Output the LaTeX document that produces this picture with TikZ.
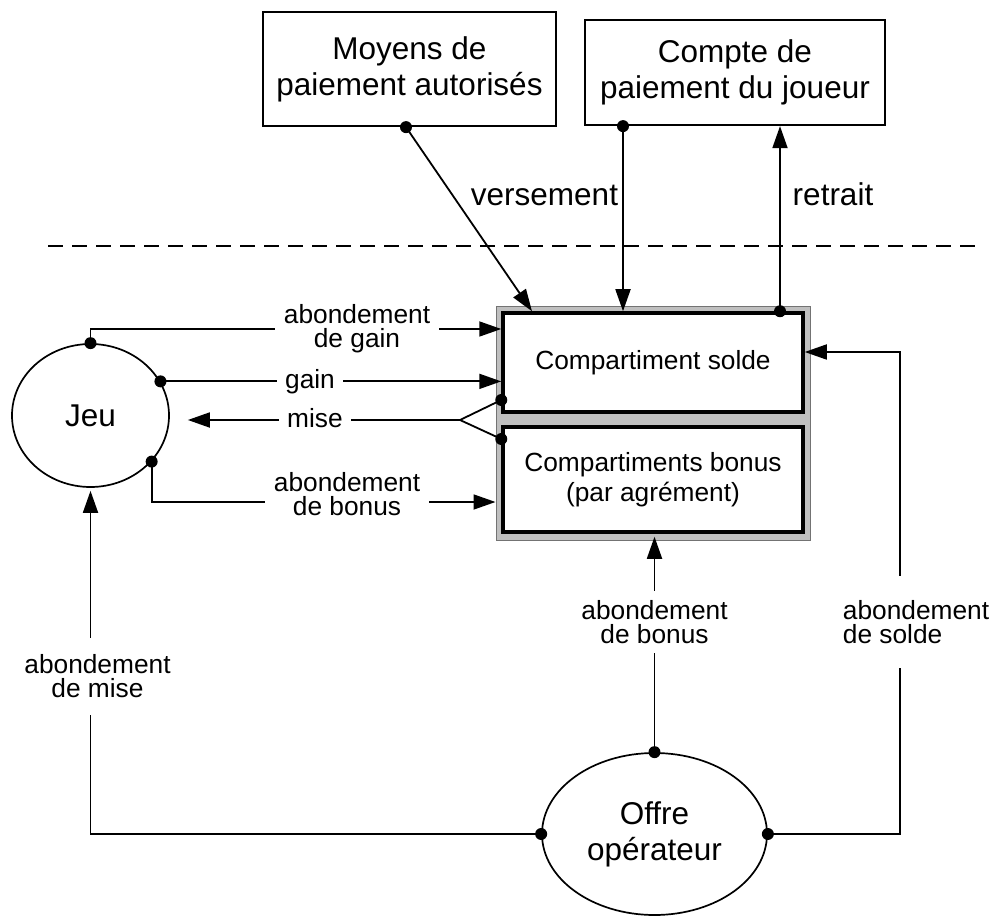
\documentclass[tikz,border=0pt]{standalone}
\usepackage{fontspec}
\setmainfont{Liberation Sans}
\usetikzlibrary{arrows.meta,shapes.geometric}
\begin{document}
\begin{tikzpicture}[x=1pt,y=-1pt,
  big/.style={font={\fontsize{31.5}{36}\selectfont}, align=center},
  small/.style={font={\fontsize{26.3}{24}\selectfont}, align=center},
  topbox/.style={big, draw, line width=2.3pt, inner sep=0pt},
  compbox/.style={draw, fill=white, line width=3.5pt, inner sep=0pt, font={\fontsize{26.3}{30}\selectfont}, align=center},
  oval/.style={ellipse, draw, line width=1.7pt, inner sep=0pt, big},
  conn/.style={line width=1.8pt},
  arr/.style={conn, -{Triangle[length=22pt,width=15pt]}},
  lab/.style={small, fill=white, inner xsep=8.5pt, inner ysep=2pt},
  dot/.style={circle, fill, inner sep=0pt, minimum size=12pt},
]
\useasboundingbox (0,0) rectangle (991,917);
\draw[line width=1.4pt, dash pattern=on 15pt off 9pt] (48,246) -- (975,246);

\node[topbox, minimum width=293pt, minimum height=114pt] (moyens) at (409.5,69) {Moyens de\\paiement autorisés};
\node[topbox, minimum width=300pt, minimum height=105pt] (compte) at (735,72.5) {Compte de\\paiement du joueur};

\node[draw=black!55, fill=black!25, line width=1pt, minimum width=314pt, minimum height=233pt, inner sep=0pt] (comp) at (653,423.5) {};
\node[compbox, minimum width=300pt, minimum height=99pt] (solde) at (653,362.5) {Compartiment solde};
\node[compbox, minimum width=300pt, minimum height=105pt] (bonus) at (653,479.5) {Compartiments bonus\\(par agrément)};

\node[oval, minimum width=157pt, minimum height=143pt] (jeu) at (90.5,415.5) {Jeu};
\node[oval, minimum width=225pt, minimum height=162pt] (offre) at (654.5,834) {Offre\\opérateur};

\coordinate (yg) at (0,329);
\coordinate (yb) at (0,502);
\coordinate (fork) at (460,420);
\coordinate (ym1) at (0,400);
\coordinate (ym2) at (0,439);
\coordinate (sc) at (900,352);
\coordinate (mdot) at ([xshift=-3.5pt]moyens.south);
\coordinate (vtip) at ([xshift=-121pt]solde.north);
\coordinate (cdot) at ([xshift=-112pt]compte.south);
\coordinate (rdot) at ([xshift=127pt]solde.north);
\coordinate (md1) at (solde.west |- ym1);
\coordinate (md2) at (bonus.west |- ym2);

\draw[arr] (mdot) -- (vtip);
\draw[arr] (cdot) -- (cdot |- solde.north);
\draw[arr] (rdot) -- (rdot |- compte.south);
\draw[arr] (jeu.north) |- (solde.west |- yg);
\draw[arr] (jeu.26.7) -- (solde.west |- jeu.26.7);
\draw[conn] (md1) -- (fork) -- (md2);
\draw[arr, shorten >=18pt] (fork) -- (jeu.east |- fork);
\draw[arr] (jeu.-37.5) |- (comp.west |- yb);
\draw[arr, shorten >=3pt] (offre.west) -| (jeu.south);
\draw[arr, shorten >=3pt] (offre.north) -- (offre.north |- bonus.south);
\draw[arr] (offre.east) -| (sc) -- (solde.east |- sc);

\foreach \p in {mdot, cdot, rdot, md1, md2, jeu.north, jeu.26.7, jeu.-37.5, offre.west, offre.east, offre.north}
  \node[dot] at (\p) {};

\node[lab] (lg) at (357,329) {abondement\\de gain};
\node[lab] (lgain) at (310,381.4) {gain};
\node[lab] (lmise) at (315,418) {mise};
\node[lab] (lbj) at (347,494.5) {abondement\\de bonus};
\node[lab, inner ysep=17pt] (lmi) at (97.5,676.5) {abondement\\de mise};
\node[lab, inner ysep=9pt] (lbo) at (654.5,622) {abondement\\de bonus};
\node[lab, inner ysep=24pt, align=left] (lso) at (916,622) {abondement\\de solde};
\node[big, anchor=base] (lv) at (544.5,206) {versement};
\node[big, anchor=base] (lr) at (833,206) {retrait};
\end{tikzpicture}
\end{document}
